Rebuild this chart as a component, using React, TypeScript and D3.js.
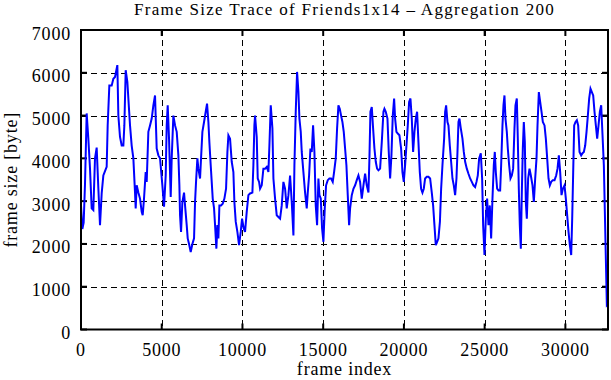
import * as d3 from 'd3';

const title = 'Frame Size Trace of Friends1x14 \u2013 Aggregation 200';
const xLabel = 'frame index';
const yLabel = 'frame size [byte]';
const xTicks = [0, 5000, 10000, 15000, 20000, 25000, 30000];
const yTicks = [0, 1000, 2000, 3000, 4000, 5000, 6000, 7000];
const xMax = 32640;

// values (frame index, aggregated frame size in bytes)
const frameIndex = [
  0, 83, 165, 248, 351, 454, 558, 661, 764, 867, 971, 1074, 1177, 1281, 1384, 1487, 1590, 1652, 1755, 1900,
  2003, 2107, 2251, 2313, 2416, 2520, 2623, 2685, 2768, 2871, 2933, 3036, 3139, 3243, 3346, 3387, 3449, 3552, 3656, 3759,
  3821, 3903, 4007, 4069, 4172, 4275, 4379, 4482, 4585, 4688, 4792, 4895, 5040, 5143, 5246, 5308, 5370,
  5453, 5556, 5618, 5721, 5825, 5928, 6031, 6093, 6134, 6196, 6279, 6382, 6444, 6547, 6609, 6692, 6795, 6898, 7002, 7064,
  7125, 7208, 7270, 7373, 7435, 7518, 7621, 7724, 7807, 7890, 7951, 8034, 8096, 8158, 8241, 8303, 8385, 8447, 8509, 8571,
  8674, 8777, 8881, 8984, 9067, 9129, 9232, 9335, 9438, 9500, 9583, 9686, 9789, 9893, 9975, 10078, 10161, 10264, 10368, 10471,
  10615, 10677, 10739, 10781, 10884,
  10946, 11029, 11091, 11194, 11297, 11401, 11504, 11607, 11669, 11752, 11855, 11917, 12020, 12123, 12227, 12330, 12433, 12536, 12640, 12743,
  12846, 12949, 13053, 13156, 13218, 13300, 13383, 13466, 13527, 13610, 13672, 13775, 13879, 13982, 14044, 14127, 14209, 14292, 14374, 14457,
  14539, 14622, 14705, 14767, 14849, 14932, 15014, 15097, 15180, 15283, 15386, 15489, 15592, 15675, 15778, 15861, 15943, 16026, 16109, 16191,
  16274, 16357, 16439, 16522, 16605,
  16667, 16770, 16873, 16977, 17080, 17183, 17286, 17390, 17493, 17596, 17699, 17803, 17864, 17926, 18009, 18092, 18174, 18257, 18339, 18422,
  18525, 18629, 18732, 18794, 18876, 18980, 19062, 19145, 19227, 19310, 19393, 19455, 19537, 19620, 19723, 19826, 19909, 19991, 20074, 20157,
  20239, 20322, 20404, 20487, 20570, 20652, 20735, 20817, 20900, 20983, 21065, 21148, 21230, 21313, 21416, 21520, 21623, 21726, 21809, 21891,
  21974, 22057, 22139, 22230,
  22305, 22387, 22491, 22553, 22614, 22697, 22759, 22842, 22924, 23007, 23089, 23172, 23255, 23317, 23379, 23440, 23523, 23626, 23709, 23792,
  23895, 23998, 24101, 24205, 24308, 24411, 24494, 24576, 24659, 24762, 24845, 24907, 24989, 25072, 25154, 25237, 25320, 25402, 25485, 25567,
  25629, 25691, 25774, 25857, 25960, 26022, 26104, 26166, 26228, 26290, 26373, 26435, 26517, 26600, 26683, 26765, 26848, 26910, 26992, 27054,
  27116, 27178, 27240, 27302, 27364, 27426, 27488, 27550, 27612, 27694,
  27778, 27861, 27964, 28047, 28130, 28212, 28274, 28357, 28439, 28522, 28604, 28708, 28790, 28873, 28956, 29038, 29121, 29224, 29327, 29430,
  29513, 29596, 29678, 29761, 29843, 29947, 30029, 30112, 30195, 30277, 30360, 30422, 30484, 30546, 30628, 30711, 30793, 30876, 30979, 31062,
  31144, 31227, 31310, 31392, 31475, 31557, 31640, 31723, 31805, 31888, 31970, 32053, 32136, 32218, 32301, 32383, 32445, 32507, 32569, 32640,
];

const frameSize = [
  2900, 2350, 2500, 3400, 5050, 4460, 3760, 2830, 2790, 4000, 4250, 3300, 2440, 3180, 3600, 3700, 3800, 4770, 5700, 5700,
  5860, 5900, 6180, 5000, 4500, 4300, 4300, 4770, 6060, 5790, 5400, 4770, 4300, 4000, 3200, 2830, 3370, 3200, 3060, 2750,
  2670, 3060, 3680, 3450, 4620, 4770, 4930, 5240, 5470, 4230, 4070, 4000, 3370, 2870, 3600, 4770, 5240,
  4460, 3100, 4000, 5000, 4770, 4620, 4070, 3370, 2670, 2280, 2980, 3200, 2900, 2440, 2130, 2000, 1810, 2000, 2130, 2980,
  3450, 4000, 3760, 3530, 4000, 4620, 4850, 5090, 5280, 4850, 4380, 3840, 3450, 3060, 2830, 2440, 1890, 2440, 2130, 2900,
  2900, 2940, 3060, 3290, 4150, 4540, 4460, 3920, 3680, 2980, 2520, 2280, 1970, 2280, 2590, 2360, 2280, 2750, 3140, 3180,
  3200, 3840, 4770, 5000, 4500,
  3530, 3450, 3290, 3370, 3760, 3760, 3800, 3680, 4300, 5240, 4700, 3530, 3060, 2670, 2630, 2590, 2900, 3450, 3290, 2830,
  3140, 3600, 2980, 2200, 3840, 5090, 6020, 5550, 4930, 4620, 4150, 3680, 3200, 2830, 3200, 3600, 4230, 4150, 4770, 4150,
  2900, 2440, 3530, 3140, 3060, 2360, 2050, 2830, 3370, 3490, 3530, 3530, 3450, 3680, 4000, 4700, 5240, 5160, 5000, 4850,
  4620, 4230, 3840, 3140, 2440,
  2830, 3140, 3290, 3370, 3490, 3600, 3450, 3060, 3370, 3640, 3370, 3200, 4000, 5090, 5200, 4700, 4230, 3920, 3760, 3720,
  3760, 4380, 5090, 5160, 5090, 4930, 4150, 3530, 4070, 5000, 5400, 4930, 4620, 4580, 4540, 4230, 3680, 3450, 3840, 4300,
  4770, 5320, 5400, 4930, 4150, 4620, 4930, 5090, 4380, 3680, 3290, 3200, 3290, 3530, 3570, 3570, 3530, 3200, 2900, 2440,
  1970, 2050, 2130, 2520,
  3290, 3840, 4460, 5090, 5240, 4850, 4770, 4300, 3920, 3530, 3370, 3140, 3530, 4150, 4850, 4930, 4700, 4460, 4150, 3920,
  3760, 3640, 3530, 3450, 3370, 3330, 3450, 3600, 4000, 4120, 3530, 2440, 1740, 2590, 3060, 2440, 2900, 2130, 3060, 3840,
  4150, 3680, 3290, 3250, 3250, 3840, 4770, 5240, 5470, 4930, 4620, 4230, 3840, 3530, 3600, 3760, 4700, 5240, 5400, 4460,
  3290, 2440, 1890, 3200, 4230, 4850, 4380, 2980, 2590, 3530,
  3760, 3600, 3370, 2980, 3530, 4000, 4770, 5550, 5320, 5090, 4850, 4770, 4460, 4000, 3530, 3370, 3450, 3490, 3490, 3600,
  3760, 4070, 3680, 3140, 3290, 3370, 3060, 2670, 2280, 1970, 1740, 2590, 3680, 4770, 4850, 4890, 4770, 4150, 4070, 4120,
  4150, 4300, 4620, 5000, 5400, 5630, 5550, 5470, 5090, 4770, 4460, 4770, 5090, 5240, 4540, 3840, 2750, 1660, 570, 600,
];

const font = '"Liberation Serif", "DejaVu Serif", serif';

export default function App() {
  const width = 611;
  const height = 380;
  const left = 81;
  const right = 608;
  const top = 30;
  const bottom = 329.5;
  const tick = 6;

  const x = d3.scaleLinear().domain([0, xMax]).range([left, right]);
  const y = d3.scaleLinear().domain([0, 7000]).range([bottom, top]);

  const trace = d3.line<number>()
    .x((_, i) => x(frameIndex[i]))
    .y(d => y(d))(frameSize);

  return (
    <div style={{ position: 'absolute', left: 0, top: 0 }}>
      <svg width={width} height={height} style={{ display: 'block', background: '#fff' }} fontFamily={font}>
        {/* grid */}
        {yTicks.slice(1, -1).map(t => (
          <line key={`gy${t}`} x1={left} x2={right} y1={Math.round(y(t)) + 0.5} y2={Math.round(y(t)) + 0.5}
            stroke="#000" strokeWidth={1} strokeDasharray="6,4" />
        ))}
        {xTicks.slice(1).map(t => (
          <line key={`gx${t}`} x1={Math.round(x(t)) + 0.5} x2={Math.round(x(t)) + 0.5} y1={top} y2={bottom}
            stroke="#000" strokeWidth={1} strokeDasharray="6,4" />
        ))}

        {/* ticks, inward on all four sides */}
        {yTicks.map(t => (
          <g key={`ty${t}`} stroke="#000" strokeWidth={2}>
            <line x1={left} x2={left + tick} y1={y(t)} y2={y(t)} />
            <line x1={right - tick} x2={right} y1={y(t)} y2={y(t)} />
          </g>
        ))}
        {xTicks.map(t => (
          <g key={`tx${t}`} stroke="#000" strokeWidth={2}>
            <line x1={x(t)} x2={x(t)} y1={bottom} y2={bottom - tick} />
            <line x1={x(t)} x2={x(t)} y1={top} y2={top + tick} />
          </g>
        ))}

        <path d={trace || undefined} fill="none" stroke="#0000ff" strokeWidth={2} strokeLinejoin="miter" />

        <rect x={left} y={top} width={right - left} height={bottom - top} fill="none" stroke="#000" strokeWidth={2} />

        {/* tick labels */}
        {yTicks.map(t => (
          <text key={`ly${t}`} x={71} y={y(t) + 9.5} textAnchor="end" fontSize={18} letterSpacing={0.8}>{t}</text>
        ))}
        {xTicks.map(t => (
          <text key={`lx${t}`} x={x(t)} y={355.5} textAnchor="middle" fontSize={18} letterSpacing={0.8}>{t}</text>
        ))}

        <text x={(left + right) / 2} y={15.2} textAnchor="middle" fontSize={17} letterSpacing={1.3}>{title}</text>
        <text x={(left + right) / 2} y={375} textAnchor="middle" fontSize={18} letterSpacing={0.8}>{xLabel}</text>
        <text transform={`translate(17, ${(top + bottom) / 2}) rotate(-90)`} textAnchor="middle" fontSize={18}
          letterSpacing={0.8}>{yLabel}</text>
      </svg>
    </div>
  );
}
